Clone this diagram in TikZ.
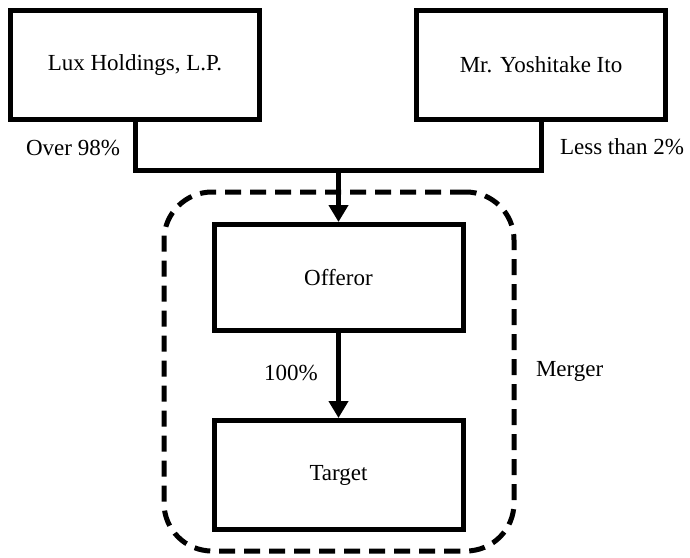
\documentclass[tikz,border=0pt]{standalone}
\usepackage{fontspec}
\setmainfont{Liberation Serif}
\usetikzlibrary{arrows.meta}
\usetikzlibrary{positioning}

\begin{document}
\begin{tikzpicture}[x=1pt,y=1pt,>={Triangle[length=17pt,width=19pt]},line width=5pt,
	main node/.style={draw,font=\fontsize{23}{27}\selectfont,minimum width=249pt,minimum height=109pt,inner sep=0pt},
	label node/.style={font=\fontsize{23}{27}\selectfont,inner sep=0pt},
	merger box/.style={draw,dash pattern=on 16pt off 9pt,rounded corners=48pt,minimum width=350pt,minimum height=359pt}]
	
	\useasboundingbox (0,0) rectangle (690,-557);
	
	\node[merger box] (mg) at (339,-371.5) {};
	\node[main node] (lux) at (135,-65) {Lux Holdings, L.P.};
	\node[main node] (ito) at (541,-65) {Mr. Yoshitake Ito};
	\node[main node,minimum height=106pt] (off) at (338.5,-277.5) {Offeror};
	\node[main node] (tgt) at (338.5,-475) {Target};
	\coordinate (jn) at (338.5,-170);
	
	\draw (lux.south) |- (jn) -| (ito.south);
	\draw[->] (jn) -- (off.north);
	\draw[->] (off.south) -- (tgt.north);
	
	\node[label node] (o98) at (73,-148) {Over 98\%};
	\node[label node] (l2) at (622,-147) {Less than 2\%};
	\node[label node] (p100) at (291,-373) {100\%};
	\node[label node,right=17pt of mg] (mlab) {Merger};
\end{tikzpicture}
\end{document}
